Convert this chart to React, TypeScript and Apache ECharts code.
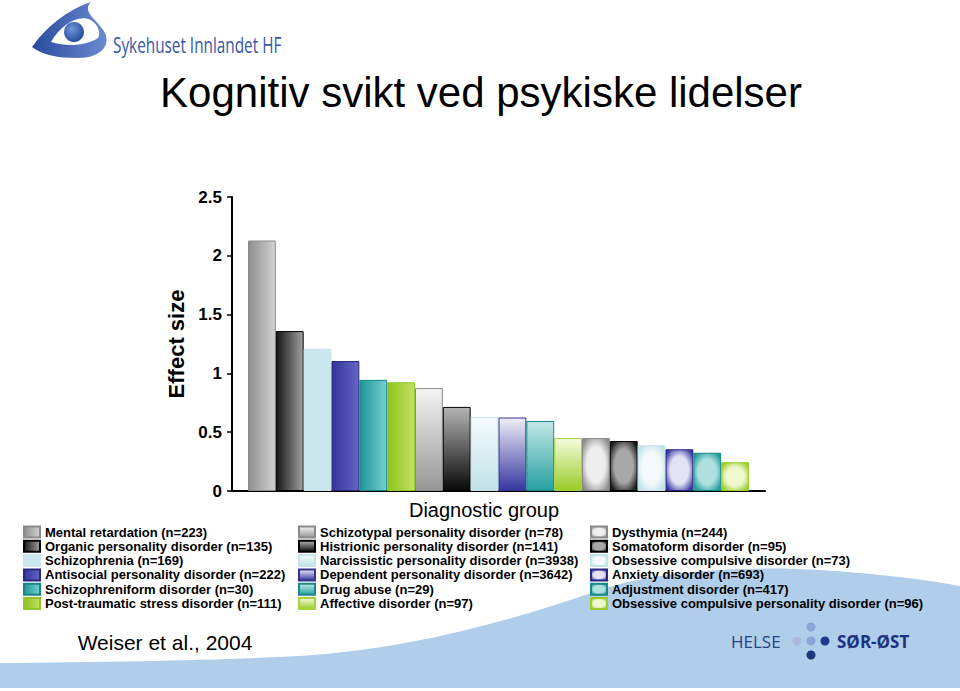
import React, { useEffect, useRef } from "react";
import * as echarts from "echarts";

const categories = [
  "Mental retardation (n=223)",
  "Organic personality disorder (n=135)",
  "Schizophrenia (n=169)",
  "Antisocial personality disorder (n=222)",
  "Schizophreniform disorder (n=30)",
  "Post-traumatic stress disorder (n=111)",
  "Schizotypal personality disorder (n=78)",
  "Histrionic personality disorder (n=141)",
  "Narcissistic personality disorder (n=3938)",
  "Dependent personality disorder (n=3642)",
  "Drug abuse (n=29)",
  "Affective disorder (n=97)",
  "Dysthymia (n=244)",
  "Somatoform disorder (n=95)",
  "Obsessive compulsive disorder (n=73)",
  "Anxiety disorder (n=693)",
  "Adjustment disorder (n=417)",
  "Obsessive compulsive personality disorder (n=96)",
];
const effectSizes = [
  2.13, 1.36, 1.21, 1.105, 0.945, 0.925, 0.875, 0.715, 0.63, 0.625, 0.595,
  0.45, 0.45, 0.425, 0.39, 0.355, 0.325, 0.245,
];
const yMin = 0;
const yMax = 2.5;
const yStep = 0.5;

const titleText = "Kognitiv svikt ved psykiske lidelser";
const xAxisTitle = "Diagnostic group";
const yAxisTitle = "Effect size";
const sourceText = "Weiser et al., 2004";

echarts.graphic.registerShape(
  "wave",
  echarts.graphic.extendPath(
    "M0,663 C120,662 220,660 300,656 C400,650 500,625 600,590 C660,569 760,566 820,570 C880,574 930,580 960,586 L960,688 L0,688 Z",
    {}
  )
);
echarts.graphic.registerShape(
  "swoosh",
  echarts.graphic.extendPath(
    "M32,47 C47,26 67,10 91,2 C81,12 98,20 105,33 C111,47 99,58 78,58 C58,58 42,55 32,47 Z",
    {}
  )
);
echarts.graphic.registerShape(
  "almond",
  echarts.graphic.extendPath(
    "M51,42 C61,24 79,14 91,20 C98,25 101,32 98,38 C86,46 66,47 51,42 Z",
    {}
  )
);

const FONT = "'Liberation Sans', Arial, sans-serif";

function lin(horizontal: boolean, c0: string, c1: string) {
  return new echarts.graphic.LinearGradient(0, 0, horizontal ? 1 : 0, horizontal ? 0 : 1, [
    { offset: 0, color: c0 },
    { offset: 1, color: c1 },
  ]);
}
function rad(c0: string, c1: string) {
  return new echarts.graphic.RadialGradient(0.5, 0.5, 0.62, [
    { offset: 0, color: c0 },
    { offset: 0.55, color: c0 },
    { offset: 1, color: c1 },
  ]);
}

function barStyle(i: number) {
  const s: any[] = [
    [lin(true, "#8e8e8e", "#d2d2d2"), "#8a8a8a"],
    [lin(true, "#161616", "#a0a0a0"), "#000000"],
    ["#c9e7ed", "#c9e7ed"],
    [lin(true, "#33339a", "#6666c6"), "#28287e"],
    [lin(true, "#1f9696", "#74cfcf"), "#1a8585"],
    [lin(true, "#8cc31c", "#c2e263"), "#92c62a"],
    [lin(false, "#f4f4f4", "#969696"), "#8a8a8a"],
    [lin(false, "#b4b4b4", "#080808"), "#000000"],
    [lin(false, "#f5fbfc", "#bfe2e8"), "#c4e4ea"],
    [lin(false, "#eeeef8", "#3636a0"), "#333390"],
    [lin(false, "#c4e8e8", "#26a0a0"), "#1e8888"],
    [lin(false, "#f5fbdc", "#98cc26"), "#a6d23c"],
    [rad("#eeeeee", "#8e8e8e"), "#8a8a8a"],
    [rad("#a8a8a8", "#1a1a1a"), "#000000"],
    [rad("#f4fafb", "#bfe2e8"), "#c4e4ea"],
    [rad("#e2e2f4", "#3636a0"), "#2a2a86"],
    [rad("#aee0e0", "#1e9a9a"), "#1a8888"],
    [rad("#eef8cc", "#98cc26"), "#9ccc2e"],
  ];
  return { color: s[i][0], borderColor: s[i][1], borderWidth: 1 };
}

export default function App() {
  const ref = useRef<HTMLDivElement>(null);
  useEffect(() => {
    if (!ref.current) return;
    const chart = echarts.init(ref.current, undefined, { renderer: "svg" });
    const legendLefts = [23, 298, 590];
    const option: any = {
      animation: false,
      backgroundColor: "#ffffff",
      textStyle: { fontFamily: FONT },
      grid: [
        { left: 232, top: 197, width: 533, height: 294 },
        { left: 248, top: 197, width: 501, height: 294 },
      ],
      xAxis: [
        {
          gridIndex: 0,
          type: "value",
          min: 0,
          max: 1,
          axisLine: { show: true, lineStyle: { color: "#000", width: 2 } },
          axisTick: { show: false },
          axisLabel: { show: false },
          splitLine: { show: false },
        },
        {
          gridIndex: 1,
          type: "category",
          data: categories,
          show: false,
        },
      ],
      yAxis: [
        {
          gridIndex: 0,
          type: "value",
          min: yMin,
          max: yMax,
          interval: yStep,
          axisLine: { show: true, lineStyle: { color: "#000", width: 2 } },
          axisTick: { show: true, length: 5, lineStyle: { color: "#000", width: 1.5 } },
          axisLabel: {
            fontSize: 17,
            fontWeight: "bold",
            color: "#000",
            margin: 10,
            fontFamily: FONT,
          },
          splitLine: { show: false },
          name: yAxisTitle,
          nameLocation: "middle",
          nameRotate: 90,
          nameGap: 36,
          nameTextStyle: { fontSize: 22, fontWeight: "bold", color: "#000", fontFamily: FONT },
        },
        { gridIndex: 1, type: "value", min: yMin, max: yMax, show: false },
      ],
      legend: [0, 1, 2].map((k) => ({
        data: categories.slice(k * 6, k * 6 + 6),
        orient: "vertical",
        left: legendLefts[k],
        top: 525,
        itemWidth: 16,
        itemHeight: 11,
        itemGap: 0.3,
        icon: "rect",
        selectedMode: false,
        padding: 0,
        textStyle: {
          fontSize: 13,
          fontWeight: "bold",
          color: "#000",
          lineHeight: 14,
          fontFamily: FONT,
        },
      })),
      series: categories.map((name, i) => ({
        type: "bar",
        name,
        xAxisIndex: 1,
        yAxisIndex: 1,
        barGap: "-100%",
        barCategoryGap: "0%",
        data: categories.map((_, j) => (j === i ? effectSizes[i] : "-")),
        itemStyle: barStyle(i),
      })),
      graphic: [
        { type: "wave", x: 0, y: 0, z: -10, style: { fill: "#b0cdea" } },
        {
          type: "swoosh",
          x: 0,
          y: 0,
          style: { fill: lin(true, "#2a4a9e", "#6a8bd0") },
        },
        { type: "almond", x: 0, y: 0, style: { fill: "#ffffff" } },
        {
          type: "circle",
          shape: { cx: 74, cy: 32, r: 10 },
          style: {
            fill: new echarts.graphic.RadialGradient(0.4, 0.35, 0.7, [
              { offset: 0, color: "#6f95da" },
              { offset: 1, color: "#24479a" },
            ]),
          },
        },
        {
          type: "text",
          x: 113,
          y: 44,
          scaleX: 0.73,
          style: {
            text: "Sykehuset Innlandet HF",
            fontSize: 21,
            fontFamily: "'Open Sans', sans-serif",
            fill: "#3656a8",
            align: "left",
            verticalAlign: "middle",
          },
        },
        {
          type: "text",
          x: 481,
          y: 92,
          style: {
            text: titleText,
            fontSize: 42,
            fontFamily: FONT,
            fill: "#000",
            align: "center",
            verticalAlign: "middle",
          },
        },
        {
          type: "text",
          x: 484,
          y: 510,
          style: {
            text: xAxisTitle,
            fontSize: 20,
            fontFamily: FONT,
            fill: "#000",
            align: "center",
            verticalAlign: "middle",
          },
        },
        {
          type: "text",
          x: 165,
          y: 642,
          style: {
            text: sourceText,
            fontSize: 21,
            fontFamily: FONT,
            fill: "#000",
            align: "center",
            verticalAlign: "middle",
          },
        },
        {
          type: "text",
          x: 731,
          y: 641,
          style: {
            text: "HELSE",
            fontSize: 17,
            fontFamily: "'Open Sans', sans-serif",
            fill: "#2a4185",
            align: "left",
            verticalAlign: "middle",
          },
        },
        { type: "circle", shape: { cx: 797, cy: 641, r: 4.5 }, style: { fill: "#a9b9e1" } },
        { type: "circle", shape: { cx: 811, cy: 641, r: 4.5 }, style: { fill: "#8ea3d6" } },
        { type: "circle", shape: { cx: 825, cy: 641, r: 4.5 }, style: { fill: "#1f3a8a" } },
        { type: "circle", shape: { cx: 811, cy: 627, r: 4.5 }, style: { fill: "#8ea3d6" } },
        { type: "circle", shape: { cx: 811, cy: 655, r: 4.5 }, style: { fill: "#1e3580" } },
        {
          type: "text",
          x: 837,
          y: 641,
          style: {
            text: "SØR-ØST",
            fontSize: 17,
            fontWeight: "bold",
            fontFamily: "'Open Sans', sans-serif",
            fill: "#1c3281",
            align: "left",
            verticalAlign: "middle",
          },
        },
      ],
    };
    chart.setOption(option);
    return () => chart.dispose();
  }, []);
  return (
    <div
      ref={ref}
      style={{ position: "absolute", left: 0, top: 0, width: 960, height: 691 }}
    />
  );
}
